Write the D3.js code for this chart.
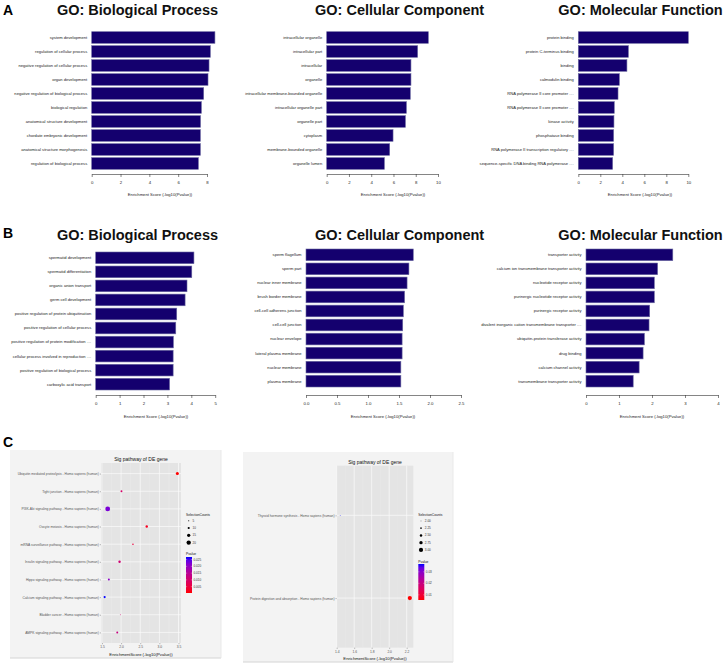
<!DOCTYPE html>
<html><head><meta charset="utf-8">
<script src="https://cdn.jsdelivr.net/npm/d3@7"></script>
<style>
body{margin:0;background:#fff}
svg{display:block}
text{font-family:"Liberation Sans",Arial,Helvetica,sans-serif}
</style>
</head><body>
<svg id="chart" width="724" height="664"></svg>
<script>
// ---------------- DATA ----------------
const aBPTerms = ["system development","regulation of cellular process","negative regulation of cellular process","organ development","negative regulation of biological process","biological regulation","anatomical structure development","chordate embryonic development","anatomical structure morphogenesis","regulation of biological process"];
const aBPValues = [8.55,8.23,8.14,8.07,7.77,7.61,7.55,7.54,7.54,7.40];
const aBPTicks = [0,2,4,6,8];

const aCCTerms = ["intracellular organelle","intracellular part","intracellular","organelle","intracellular membrane-bounded organelle","intracellular organelle part","organelle part","cytoplasm","membrane-bounded organelle","organelle lumen"];
const aCCValues = [9.13,8.17,7.57,7.57,7.51,7.16,7.07,5.96,5.66,5.18];
const aCCTicks = [0,2,4,6,8,10];

const aMFTerms = ["protein binding","protein C-terminus binding","binding","calmodulin binding","RNA polymerase II core promoter ....","RNA polymerase II core promoter ....","kinase activity","phosphatase binding","RNA polymerase II transcription regulatory ....","sequence-specific DNA binding RNA polymerase ...."];
const aMFValues = [10.0,4.55,4.42,3.73,3.61,3.27,3.24,3.21,3.21,3.12];
const aMFTicks = [0,2,4,6,8,10];

const bBPTerms = ["spermatid development","spermatid differentiation","organic anion transport","germ cell development","positive regulation of protein ubiquitination","positive regulation of cellular process","positive regulation of protein modification ....","cellular process involved in reproduction ....","positive regulation of biological process","carboxylic acid transport"];
const bBPValues = [4.11,4.02,3.82,3.74,3.39,3.35,3.25,3.24,3.24,3.09];
const bBPTicks = [0,1,2,3,4,5];

const bCCTerms = ["sperm flagellum","sperm part","nuclear inner membrane","brush border membrane","cell-cell adherens junction","cell-cell junction","nuclear envelope","lateral plasma membrane","nuclear membrane","plasma membrane"];
const bCCValues = [1.73,1.66,1.63,1.59,1.57,1.56,1.55,1.55,1.53,1.53];
const bCCTicks = [0,0.5,1.0,1.5,2.0,2.5];

const bMFTerms = ["transporter activity","calcium ion transmembrane transporter activity","nucleotide receptor activity","purinergic nucleotide receptor activity","purinergic receptor activity","divalent inorganic cation transmembrane transporter ....","ubiquitin-protein transferase activity","drug binding","calcium channel activity","transmembrane transporter activity"];
const bMFValues = [2.63,2.17,2.07,2.07,1.93,1.91,1.77,1.73,1.61,1.43];
const bMFTicks = [0,1,2,3,4];

const cLeftPathways = ["Ubiquitin mediated proteolysis - Homo sapiens (human)","Tight junction - Homo sapiens (human)","PI3K-Akt signaling pathway - Homo sapiens (human)","Oocyte meiosis - Homo sapiens (human)","mRNA surveillance pathway - Homo sapiens (human)","Insulin signaling pathway - Homo sapiens (human)","Hippo signaling pathway - Homo sapiens (human)","Calcium signaling pathway - Homo sapiens (human)","Bladder cancer - Homo sapiens (human)","AMPK signaling pathway - Homo sapiens (human)"];
const cLeftScores = [3.47,2.01,1.65,2.67,2.31,1.96,1.68,1.57,1.98,1.90];
const cLeftPvalues = [0.00034,0.0098,0.0224,0.0021,0.0049,0.011,0.0209,0.0269,0.0105,0.0126];
const cLeftCounts = [14,9,22,11,7,11,9,10,4,9];
const cLeftXTicks = [1.5,2.0,2.5,3.0,3.5];
const cLeftSizeBreaks = [5,10,15,20];
const cLeftColorBreaks = [0.025,0.020,0.015,0.010,0.005];

const cRightPathways = ["Thyroid hormone synthesis - Homo sapiens (human)","Protein digestion and absorption - Homo sapiens (human)"];
const cRightScores = [1.44,2.236];
const cRightPvalues = [0.0368,0.0055];
const cRightCounts = [2,3];
const cRightXTicks = [1.4,1.6,1.8,2.0,2.2];
const cRightSizeBreaks = [2.00,2.25,2.50,2.75,3.00];
const cRightColorBreaks = [0.03,0.02,0.01];

// ---------------- DRAW ----------------
const svg = d3.select("#chart");
svg.append("rect").attr("width",724).attr("height",664).attr("fill","#fff");

const BAR_FILL = "#14006e";

function barPanel(cfg){
  const g = svg.append("g");
  const maxT = d3.max(cfg.ticks);
  const x = d3.scaleLinear().domain([0,maxT]).range([cfg.x0,cfg.x1]);
  const idx = d3.range(cfg.terms.length);
  const y = d3.scaleBand().domain(idx).range([cfg.y0,cfg.y1]).paddingInner(0.17).paddingOuter(0);

  g.selectAll("rect.bar").data(idx).join("rect")
    .attr("class","bar")
    .attr("x",x(0)).attr("y",i=>y(i))
    .attr("width",i=>x(cfg.values[i])-x(0))
    .attr("height",y.bandwidth())
    .attr("fill",BAR_FILL).attr("stroke","#6a68a0").attr("stroke-width",0.6);

  g.selectAll("text.lab").data(idx).join("text")
    .attr("class","lab")
    .attr("x",cfg.x0-4.5).attr("y",i=>y(i)+y.bandwidth()/2)
    .attr("dy","0.35em").attr("text-anchor","end")
    .attr("font-size",4.1).attr("fill","#1a1a1a")
    .text(i=>cfg.terms[i]);

  const ax = d3.axisBottom(x).tickValues(cfg.ticks).tickSize(3).tickSizeOuter(0).tickPadding(4)
    .tickFormat(cfg.fmt || d3.format("d"));
  const ag = g.append("g").attr("transform",`translate(0,${cfg.axisY})`).call(ax);
  ag.select(".domain").attr("stroke","#333").attr("stroke-width",0.6);
  ag.selectAll(".tick line").attr("stroke","#333").attr("stroke-width",0.6);
  ag.selectAll(".tick text").attr("font-size",4.3).attr("fill","#222")
    .attr("font-family","Liberation Sans, Arial, sans-serif");

  g.append("text").attr("x",cfg.axisTitleX).attr("y",cfg.axisY+cfg.titleOff)
    .attr("text-anchor","middle").attr("font-size",4.2).attr("fill","#222")
    .text("Enrichment Score (-log10(Pvalue))");

  g.append("text").attr("x",cfg.titleX).attr("y",cfg.titleY)
    .attr("text-anchor","middle").attr("font-size",14.5).attr("font-weight","bold").attr("fill","#111")
    .text(cfg.title);
}

barPanel({terms:aBPTerms,values:aBPValues,ticks:aBPTicks,x0:91.7,x1:207,y0:31.7,y1:169.3,axisY:174,titleOff:22,axisTitleX:160,title:"GO: Biological Process",titleX:137.5,titleY:15});
barPanel({terms:aCCTerms,values:aCCValues,ticks:aCCTicks,x0:326.7,x1:438,y0:31.7,y1:169.3,axisY:174,titleOff:22,axisTitleX:393,title:"GO: Cellular Component",titleX:399.6,titleY:15});
barPanel({terms:aMFTerms,values:aMFValues,ticks:aMFTicks,x0:578.3,x1:688.3,y0:31.7,y1:169.3,axisY:174,titleOff:22,axisTitleX:640,title:"GO: Molecular Function",titleX:640.5,titleY:15});

barPanel({terms:bBPTerms,values:bBPValues,ticks:bBPTicks,x0:95.7,x1:215.2,y0:252,y1:390,axisY:395,titleOff:23,axisTitleX:156,title:"GO: Biological Process",titleX:137.5,titleY:240});
barPanel({terms:bCCTerms,values:bCCValues,ticks:bCCTicks,fmt:d3.format(".1f"),x0:306,x1:461,y0:249,y1:387,axisY:395,titleOff:23,axisTitleX:383,title:"GO: Cellular Component",titleX:399.6,titleY:240});
barPanel({terms:bMFTerms,values:bMFValues,ticks:bMFTicks,x0:586,x1:718,y0:249,y1:387,axisY:395,titleOff:23,axisTitleX:652,title:"GO: Molecular Function",titleX:640.5,titleY:240});

// panel letters
[["A",3,15],["B",3,238],["C",3,447]].forEach(([t,xx,yy])=>{
  svg.append("text").attr("x",xx).attr("y",yy).attr("font-size",14).attr("font-weight","bold").attr("fill","#000").text(t);
});

// ---------------- dot plots ----------------
const colorInterp = d3.interpolateLab("#ff0000","#0000ff");

function dotPanel(cfg){
  const g = svg.append("g");
  g.append("rect").attr("x",cfg.ox).attr("y",cfg.oy).attr("width",cfg.ow).attr("height",cfg.oh)
    .attr("fill","#f3f3f3");
  g.append("line").attr("x1",cfg.ox).attr("x2",cfg.ox+cfg.ow).attr("y1",cfg.oy+cfg.oh).attr("y2",cfg.oy+cfg.oh)
    .attr("stroke","#d4d4d4").attr("stroke-width",1);
  g.append("line").attr("x1",cfg.ox+cfg.ow).attr("x2",cfg.ox+cfg.ow).attr("y1",cfg.oy).attr("y2",cfg.oy+cfg.oh)
    .attr("stroke","#e4e4e4").attr("stroke-width",0.8);
  g.append("rect").attr("x",cfg.px).attr("y",cfg.py).attr("width",cfg.pw).attr("height",cfg.ph)
    .attr("fill","#e4e4e4");

  const ext = d3.extent(cfg.scores);
  const pad = (ext[1]-ext[0])*0.05;
  const x = d3.scaleLinear().domain([ext[0]-pad,ext[1]+pad]).range([cfg.px,cfg.px+cfg.pw]);
  const n = cfg.pathways.length;
  const step = cfg.ph/(n-1+1.2);
  const y = d3.scalePoint().domain(d3.range(n)).range([cfg.py+0.6*step,cfg.py+cfg.ph-0.6*step]);

  const t = cfg.xTicks, d = t[1]-t[0];
  const minor = [];
  for(let i=-1;i<t.length;i++){ const v=t[0]+d*(i+0.5); if(x(v)>cfg.px && x(v)<cfg.px+cfg.pw) minor.push(v); }
  g.selectAll("line.mn").data(minor).join("line").attr("class","mn")
    .attr("x1",v=>x(v)).attr("x2",v=>x(v)).attr("y1",cfg.py).attr("y2",cfg.py+cfg.ph)
    .attr("stroke","#efefef").attr("stroke-width",0.35);
  g.selectAll("line.mjx").data(t).join("line").attr("class","mjx")
    .attr("x1",v=>x(v)).attr("x2",v=>x(v)).attr("y1",cfg.py).attr("y2",cfg.py+cfg.ph)
    .attr("stroke","#fafafa").attr("stroke-width",0.7);
  g.selectAll("line.mjy").data(d3.range(n)).join("line").attr("class","mjy")
    .attr("x1",cfg.px).attr("x2",cfg.px+cfg.pw).attr("y1",i=>y(i)).attr("y2",i=>y(i))
    .attr("stroke","#fafafa").attr("stroke-width",0.7);

  const xa = d3.axisBottom(x).tickValues(t).tickSize(1.2).tickPadding(1.5).tickFormat(d3.format(".1f"));
  const xg = g.append("g").attr("transform",`translate(0,${cfg.py+cfg.ph})`).call(xa);
  xg.select(".domain").remove();
  xg.selectAll(".tick line").attr("stroke","#555").attr("stroke-width",0.4);
  xg.selectAll(".tick text").attr("font-size",3.3).attr("fill","#555").attr("font-family","Liberation Sans, Arial, sans-serif");

  const ya = d3.axisLeft(y).tickSize(1.2).tickPadding(1).tickFormat(i=>cfg.pathways[i]);
  const yg = g.append("g").attr("transform",`translate(${cfg.px},0)`).call(ya);
  yg.select(".domain").remove();
  yg.selectAll(".tick line").attr("stroke","#555").attr("stroke-width",0.4);
  yg.selectAll(".tick text").attr("font-size",3.3).attr("fill","#555").attr("font-family","Liberation Sans, Arial, sans-serif");

  g.append("text").attr("x",cfg.px+cfg.pw/2).attr("y",cfg.titleY).attr("text-anchor","middle")
    .attr("font-size",5).attr("fill","#111").text("Sig pathway of DE gene");
  g.append("text").attr("x",cfg.px+cfg.pw/2).attr("y",cfg.py+cfg.ph+12.5).attr("text-anchor","middle")
    .attr("font-size",4.2).attr("fill","#111").text("EnrichmentScore (-log10(Pvalue))");

  const pext = d3.extent(cfg.pvalues);
  const col = d3.scaleLinear().domain(pext).range([0,1]);
  const colorOf = v=>colorInterp(col(v));
  const r = d3.scaleLinear().domain(cfg.sizeDomain).range(cfg.sizeRange);

  g.selectAll("circle.pt").data(d3.range(n)).join("circle").attr("class","pt")
    .attr("cx",i=>x(cfg.scores[i])).attr("cy",i=>y(i))
    .attr("r",i=>r(cfg.counts[i])).attr("fill",i=>colorOf(cfg.pvalues[i]));

  const lx = cfg.lx;
  g.append("text").attr("x",lx).attr("y",cfg.sizeTitleY).attr("font-size",3.3).attr("fill","#111").text("SelectionCounts");
  cfg.sizeBreaks.forEach((b,k)=>{
    const yy = cfg.sizeTitleY+5.2+k*cfg.sizeStep;
    g.append("circle").attr("cx",lx+2.7).attr("cy",yy).attr("r",r(b)).attr("fill","#000");
    g.append("text").attr("x",lx+6.5).attr("y",yy).attr("dy","0.35em").attr("font-size",3.1).attr("fill","#333")
      .text(cfg.sizeFmt(b));
  });

  g.append("text").attr("x",lx).attr("y",cfg.colTitleY).attr("font-size",3.3).attr("fill","#111").text("Pvalue");
  const gid = "grad"+cfg.id;
  const grad = svg.append("defs").append("linearGradient").attr("id",gid)
    .attr("x1",0).attr("x2",0).attr("y1",1).attr("y2",0);
  d3.range(0,1.0001,0.1).forEach(s=>{
    grad.append("stop").attr("offset",s).attr("stop-color",colorInterp(s));
  });
  const by = d3.scaleLinear().domain(pext).range([cfg.barY+cfg.barH,cfg.barY]);
  g.append("rect").attr("x",lx).attr("y",cfg.barY).attr("width",6).attr("height",cfg.barH)
    .attr("fill",`url(#${gid})`);
  cfg.colorBreaks.forEach(b=>{
    g.append("line").attr("x1",lx).attr("x2",lx+1.2).attr("y1",by(b)).attr("y2",by(b)).attr("stroke","#fff").attr("stroke-width",0.3);
    g.append("line").attr("x1",lx+4.8).attr("x2",lx+6).attr("y1",by(b)).attr("y2",by(b)).attr("stroke","#fff").attr("stroke-width",0.3);
    g.append("text").attr("x",lx+7.5).attr("y",by(b)).attr("dy","0.35em").attr("font-size",3.1).attr("fill","#333")
      .text(cfg.colFmt(b));
  });
}

dotPanel({id:"L",pathways:cLeftPathways,scores:cLeftScores,pvalues:cLeftPvalues,counts:cLeftCounts,
  xTicks:cLeftXTicks,sizeBreaks:cLeftSizeBreaks,colorBreaks:cLeftColorBreaks,
  ox:10,oy:450,ow:211,oh:208,px:101,py:463,pw:80,ph:180,titleY:461,
  sizeDomain:[0,22],sizeRange:[0,2.4],sizeFmt:d3.format("d"),colFmt:d3.format(".3f"),
  lx:186,sizeTitleY:515.5,sizeStep:7.3,colTitleY:555.3,barY:557,barH:36});

dotPanel({id:"R",pathways:cRightPathways,scores:cRightScores,pvalues:cRightPvalues,counts:cRightCounts,
  xTicks:cRightXTicks,sizeBreaks:cRightSizeBreaks,colorBreaks:cRightColorBreaks,
  ox:243,oy:452,ow:210,oh:210,px:336.7,py:465.7,pw:76.6,ph:182,titleY:464,
  sizeDomain:[2,3],sizeRange:[0.4,2.1],sizeFmt:d3.format(".2f"),colFmt:d3.format(".2f"),
  lx:418.3,sizeTitleY:515.7,sizeStep:7.25,colTitleY:563,barY:564,barH:36});
</script>
</body></html>
